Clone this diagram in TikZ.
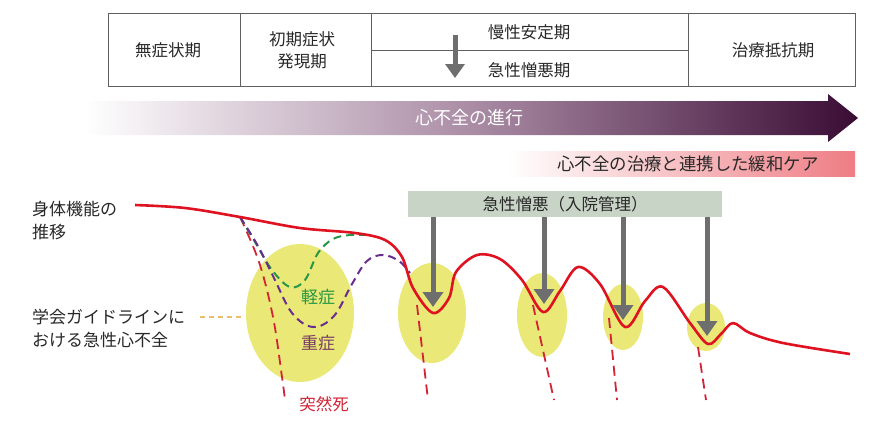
\documentclass[tikz,border=0pt]{standalone}
\usepackage{fontspec}
\setmainfont{Noto Sans CJK JP}
\usetikzlibrary{arrows.meta}
\definecolor{tblline}{RGB}{95,95,95}
\definecolor{txtgray}{RGB}{40,40,40}
\definecolor{arrgray}{RGB}{110,110,110}
\definecolor{darkpurple}{RGB}{58,12,52}
\definecolor{palpink}{RGB}{238,125,132}
\definecolor{boxgreen}{RGB}{200,212,198}
\definecolor{ellyellow}{RGB}{234,232,118}
\definecolor{curvered}{RGB}{222,18,32}
\definecolor{deathred}{RGB}{210,35,55}
\definecolor{mildgreen}{RGB}{40,150,70}
\definecolor{sevpurple}{RGB}{105,45,145}
\definecolor{sevtext}{RGB}{120,60,100}
\definecolor{guideorange}{RGB}{235,190,110}
\tikzset{
  tbl/.style={draw=tblline, line width=0.9pt},
  txt/.style={inner sep=0pt, text=txtgray, font=\fontsize{16.5}{22}\selectfont, align=center},
  lbl/.style={inner sep=0pt, text=txtgray, font=\fontsize{17}{23}\selectfont, align=left, anchor=west},
  garrow/.style={draw=arrgray, line width=5pt, -{Triangle[width=20pt,length=15pt]}},
  yell/.style={fill=ellyellow, draw=none},
  mainc/.style={draw=curvered, line width=2.6pt, line join=round},
  death/.style={draw=deathred, line width=1.8pt, dash pattern=on 10pt off 6pt},
  mild/.style={draw=mildgreen, line width=2pt, dash pattern=on 8pt off 5pt},
  severe/.style={draw=sevpurple, line width=2pt, dash pattern=on 8pt off 5pt},
}
\begin{document}
\begin{tikzpicture}[x=1pt,y=-1pt]
\useasboundingbox (0,0) rectangle (884,432);

% ---- stage table ----
\draw[tbl] (108,13) rectangle (855,86);
\draw[tbl] (240.5,13) -- (240.5,86);
\draw[tbl] (371,13) -- (371,86);
\draw[tbl] (688.5,13) -- (688.5,86);
\draw[tbl] (371,50) -- (688.5,50);
\node[txt] (s1) at (168,50) {無症状期};
\node[txt] (s2) at (302,50) {初期症状\\発現期};
\node[txt] (s3a) at (529,32) {慢性安定期};
\node[txt] (s3b) at (529,70) {急性憎悪期};
\node[txt] (s4) at (773,50) {治療抵抗期};
\coordinate (ta) at (455,35);
\coordinate (tb) at (455,78);
\draw[draw=arrgray, line width=5pt, -{Triangle[width=19pt,length=14pt]}] (ta) -- (tb);

% ---- progression arrow ----
\shade[left color=white, right color=darkpurple, middle color={rgb,255:red,170;green,140;blue,165}]
  (85,101) -- (828,101) -- (828,94) -- (858,118) -- (828,142) -- (828,135) -- (85,135) -- cycle;
\node[inner sep=0pt, text=white, font=\fontsize{18}{20}\selectfont] (prog) at (469,118) {心不全の進行};

% ---- palliative care bar ----
\shade[left color=white, right color=palpink] (508,151) rectangle (855,176);
\node[inner sep=0pt, text=txtgray, font=\fontsize{17.4}{20}\selectfont] (pal) at (688,163.5) {心不全の治療と連携した緩和ケア};

% ---- yellow ellipses ----
\fill[yell] (300,313) ellipse [x radius=54, y radius=69];
\fill[yell] (432,313) ellipse [x radius=34, y radius=50];
\fill[yell] (542,315) ellipse [x radius=25, y radius=42];
\fill[yell] (623,317) ellipse [x radius=20, y radius=33];
\fill[yell] (706,327) ellipse [x radius=19, y radius=24];

% ---- sudden death dashed lines ----
\draw[death] plot[smooth, tension=0.6] coordinates {(240,217) (259,262) (273,317) (282,377) (285,400)};
\draw[death] (417,305) -- (428,400);
\draw[death] (533,305) -- (554,400);
\draw[death] (609,318) -- (617,400);
\draw[death] (698,347) -- (706,400);

% ---- mild / severe dashed curves ----
\draw[mild] plot[smooth, tension=0.6] coordinates {(240,217) (255,242) (272,270) (290,287) (305,280) (318,253) (333,239) (350,235) (366,235)};
\draw[severe] plot[smooth, tension=0.6] coordinates {(240,217) (258,246) (274,278) (292,313) (313,327) (334,316) (352,284) (367,261) (383,255) (399,261) (410,273)};

% ---- main curve ----
\draw[mainc] plot[smooth, tension=0.55] coordinates {
  (135,205) (185,208) (240,217) (300,228) (355,233) (385,240) (402,257) (413,288) (433,313)
  (449,298) (456,272) (477,255) (500,259) (522,280) (543,312) (560,291) (578,267)
  (600,284) (625,327) (645,301) (663,287) (690,323) (708,344) (721,334) (733,323)
  (750,333) (783,343) (850,354)};

% ---- acute exacerbation box and arrows ----
\node[fill=boxgreen, minimum width=314pt, minimum height=26pt, inner sep=0pt, text=txtgray,
  font=\fontsize{16.5}{20}\selectfont] (acute) at (565,204) {急性憎悪（入院管理）};
\coordinate (t1) at (433,307);
\coordinate (t2) at (544,304);
\coordinate (t3) at (623,320);
\coordinate (t4) at (707,336);
\draw[garrow] (acute.south -| t1) -- (t1);
\draw[garrow] (acute.south -| t2) -- (t2);
\draw[garrow] (acute.south -| t3) -- (t3);
\draw[garrow] (acute.south -| t4) -- (t4);

% ---- labels ----
\node[lbl] (phys) at (32,221) {身体機能の\\推移};
\node[lbl] (guide) at (32,328) {学会ガイドラインに\\おける急性心不全};
\coordinate (g1) at (200,317);
\coordinate (g2) at (244,317);
\draw[draw=guideorange, line width=1.5pt, dash pattern=on 5pt off 4pt] (g1) -- (g2);
\node[inner sep=0pt, text=mildgreen, font=\fontsize{17}{20}\selectfont] (mildl) at (318,297) {軽症};
\node[inner sep=0pt, text=sevtext, font=\fontsize{17}{20}\selectfont] (sevl) at (318,343) {重症};
\node[inner sep=0pt, text=deathred, font=\fontsize{16.5}{20}\selectfont] (dl) at (324,404) {突然死};
\end{tikzpicture}
\end{document}
